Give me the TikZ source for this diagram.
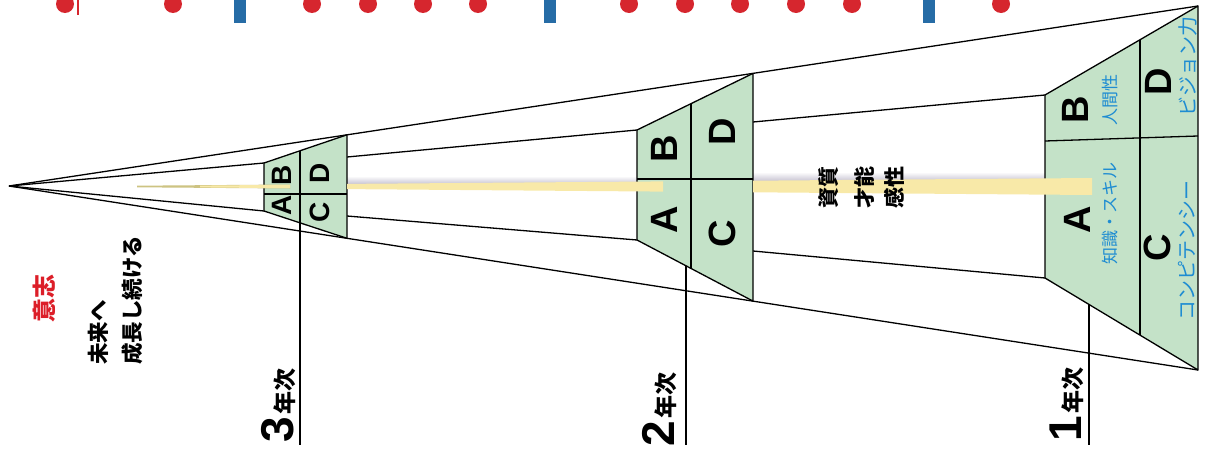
\documentclass[tikz,border=0pt]{standalone}
\usepackage{fontspec}
\setmainfont{Liberation Sans}
\newfontfamily\jp{Noto Sans CJK JP}
\usetikzlibrary{calc}
\definecolor{cellg}{RGB}{196,226,200}
\definecolor{beamc}{RGB}{248,233,168}
\definecolor{beamd}{RGB}{205,195,130}
\definecolor{shad}{RGB}{196,192,208}
\definecolor{reddot}{RGB}{214,38,46}
\definecolor{bluebar}{RGB}{38,108,166}
\definecolor{bluetxt}{RGB}{30,140,210}
\definecolor{redtxt}{RGB}{220,30,40}
\tikzset{
  ln/.style={line width=1.3pt, black},
  cell/.style={fill=cellg, draw=black, line width=1.3pt, line join=round},
  bigL/.style={rotate=90, inner sep=0, font=\fontsize{38}{38}\selectfont\bfseries},
  smallL/.style={rotate=90, inner sep=0, font=\fontsize{28}{28}\selectfont\bfseries},
  bluelab/.style={rotate=90, inner sep=0, text=bluetxt, font=\jp\fontsize{17}{17}\selectfont},
  bluebig/.style={rotate=90, inner sep=0, text=bluetxt, font=\jp\fontsize{20}{20}\selectfont},
  midlab/.style={rotate=90, inner sep=0, font=\jp\bfseries\fontsize{21}{21}\selectfont},
  leftlab/.style={rotate=90, inner sep=0, font=\jp\bfseries\fontsize{21.5}{21.5}\selectfont},
  yearlab/.style={rotate=90, inner sep=0, anchor=base west},
  dot/.style={fill=reddot},
  bar/.style={fill=bluebar}
}
\begin{document}
\begin{tikzpicture}[x=1pt,y=-1pt]
\useasboundingbox (0,0) rectangle (1205,450);
% top marks
\foreach \x in {65,173,312,368,423,478,629,685,740,796,852,1001}{\fill[dot] (\x,4) circle (9);}
\foreach \x in {240,550,929}{\fill[bar] (\x-6,-2) rectangle (\x+6,23);}
\draw[reddot, line width=1.2pt] (78,0) -- (78,15);
% key points
\coordinate (apex) at (9,186);
\coordinate (o1t) at (1198,6);
\coordinate (o1b) at (1198,370);
% trapezoid 3
\coordinate (t3lt) at (264,163);
\coordinate (t3lb) at (264,211);
\coordinate (t3rt) at (347,134.8);
\coordinate (t3rb) at (347,238.3);
\coordinate (t3mt) at (300,150.8);
\coordinate (t3mb) at (300,222.7);
\coordinate (t3hl) at (264,194);
\coordinate (t3hr) at (347,194);
\coordinate (t3ri) at (347,157);
\coordinate (t3rj) at (347,216);
% trapezoid 2
\coordinate (t2lt) at (637,130);
\coordinate (t2lb) at (637,240);
\coordinate (t2rt) at (753,73.4);
\coordinate (t2rb) at (753,301.1);
\coordinate (t2mt) at (691,103.7);
\coordinate (t2mb) at (691,268.4);
\coordinate (t2hl) at (637,179);
\coordinate (t2hr) at (753,179);
\coordinate (t2ri) at (753,122);
\coordinate (t2rj) at (753,251);
% trapezoid 1
\coordinate (t1lt) at (1045,95);
\coordinate (t1lb) at (1045,278);
\coordinate (t1mt) at (1140,39.7);
\coordinate (t1mb) at (1140,335.1);
\coordinate (t1hl) at (1045,141);
\coordinate (t1hr) at (1198,136);
% year lines
\coordinate (y2t) at (686,265.8);
\coordinate (y1t) at (1089,304.5);
\coordinate (y3b) at (300,445);
\coordinate (y2b) at (686,445);
\coordinate (y1b) at (1089,445);
% cone lines
\draw[ln] (apex) -- (o1t);
\draw[ln] (apex) -- (o1b);
\draw[ln] (apex) -- (t3lt);
\draw[ln] (apex) -- (t3lb);
\draw[ln] (t3ri) -- (t2lt);
\draw[ln] (t3rj) -- (t2lb);
\draw[ln] (t2ri) -- (t1lt);
\draw[ln] (t2rj) -- (t1lb);
% shadows above beam
\shade[top color=white, bottom color=shad] (347,176) rectangle (637,184.5);
\shade[top color=white, bottom color=shad] (753,172) rectangle (1045,181.5);
% trapezoids
\draw[cell] (t3lt) -- (t3rt) -- (t3rb) -- (t3lb) -- cycle;
\draw[ln] (t3mt) -- (t3mb);
\draw[ln] (t3hl) -- (t3hr);
\draw[cell] (t2lt) -- (t2rt) -- (t2rb) -- (t2lb) -- cycle;
\draw[ln] (t2mt) -- (t2mb);
\draw[ln] (t2hl) -- (t2hr);
\draw[cell] (t1lt) -- (o1t) -- (o1b) -- (t1lb) -- cycle;
\draw[ln] (t1mt) -- (t1mb);
\draw[ln] (t1hl) -- (t1hr);
% year lines
\draw[ln] (t3mb) -- (y3b);
\draw[ln] (y2t) -- (y2b);
\draw[ln] (y1t) -- (y1b);
% beam
\fill[beamd] (137,185.7) -- (290,184.5) -- (290,188.5) -- (137,187.3) -- cycle;
\fill[beamc] (200,185.6) -- (290,184.8) -- (290,188.2) -- (200,187.4) -- cycle;
\fill[beamc] (347,183.9) -- (663,181.4) -- (663,191.6) -- (347,189.1) -- cycle;
\fill[beamc] (753,180.7) -- (1092,178) -- (1092,195) -- (753,192.3) -- cycle;
% letters
\node[bigL] (A1) at (1077,220) {A};
\node[bigL] (B1) at (1075,110) {B};
\node[bigL] (C1) at (1157,248) {C};
\node[bigL] (D1) at (1158,82) {D};
\node[bigL] (A2) at (664,220) {A};
\node[bigL] (B2) at (664,149) {B};
\node[bigL] (C2) at (722,234) {C};
\node[bigL] (D2) at (722,132) {D};
\node[smallL] (A3) at (282,205) {A};
\node[smallL] (B3) at (282,175) {B};
\node[smallL] (C3) at (320,212) {C};
\node[smallL] (D3) at (320,173) {D};
% blue labels
\node[bluelab] (la) at (1110,213) {知識・スキル};
\node[bluelab] (lb) at (1110,100) {人間性};
\node[bluebig] (lc) at (1187,250) {コンピテンシー};
\node[bluebig] (ld) at (1188,66) {ビジョン力};
% middle labels
\node[midlab] (m1) at (829,187) {資質};
\node[midlab] (m2) at (864,187) {才能};
\node[midlab] (m3) at (894,187) {感性};
% left labels
\node[rotate=90, inner sep=0, text=redtxt, font=\jp\bfseries\fontsize{24}{24}\selectfont] (ishi) at (44,298) {意志};
\node[leftlab, anchor=west] (mirai) at (98,365) {未来へ};
\node[leftlab, anchor=west] (seicho) at (132,365) {成長し続ける};
% year labels
\node[yearlab] (y3) at (293,443) {\fontsize{46}{46}\selectfont\bfseries 3\hspace{3pt}\jp\fontsize{23}{23}\selectfont 年次};
\node[yearlab] (y2) at (674,447) {\fontsize{46}{46}\selectfont\bfseries 2\hspace{3pt}\jp\fontsize{23}{23}\selectfont 年次};
\node[yearlab] (y1) at (1081,442) {\fontsize{46}{46}\selectfont\bfseries 1\hspace{3pt}\jp\fontsize{23}{23}\selectfont 年次};
\end{tikzpicture}
\end{document}
